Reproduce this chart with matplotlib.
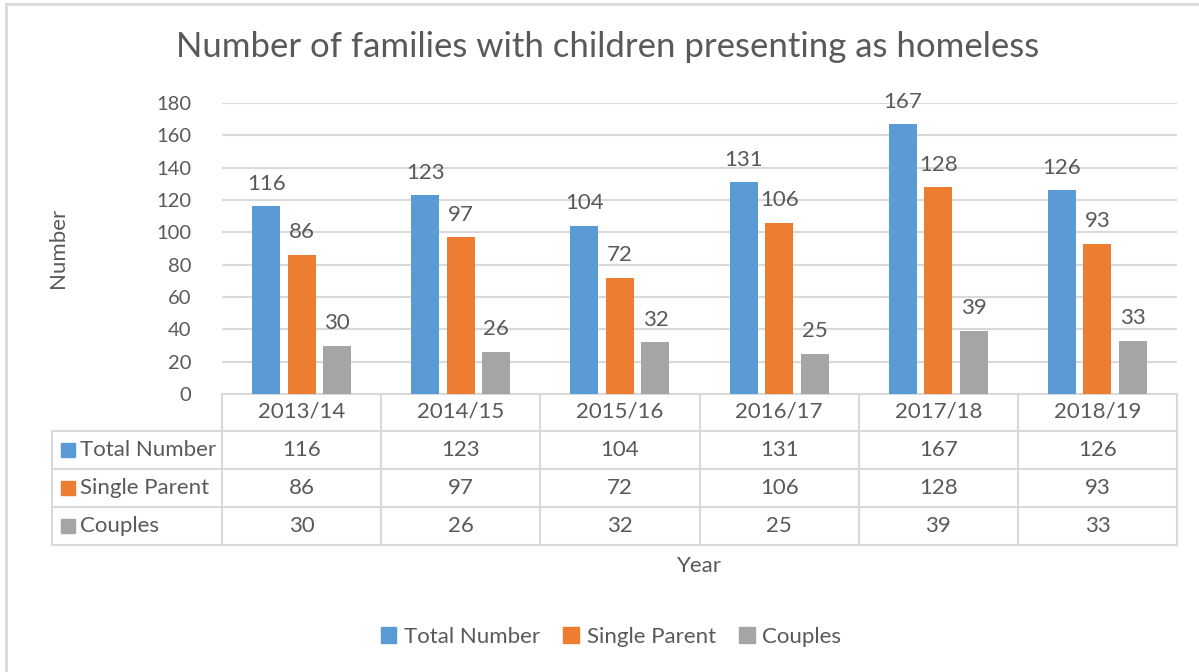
import numpy as np
import matplotlib
matplotlib.use("Agg")
import matplotlib.pyplot as plt
from matplotlib.lines import Line2D
from matplotlib.patches import Patch
import matplotlib.transforms as mtransforms

plt.rcParams['font.family'] = ['Lato', 'DejaVu Sans']

# data
years = ["2013/14", "2014/15", "2015/16", "2016/17", "2017/18", "2018/19"]
series_names = ["Total Number", "Single Parent", "Couples"]
total_number = [116, 123, 104, 131, 167, 126]
single_parent = [86, 97, 72, 106, 128, 93]
couples = [30, 26, 32, 25, 39, 33]
colors = ["#5B9BD5", "#ED7D31", "#A5A5A5"]

TEXT = "#595959"
LINE = "#D9D9D9"
W, H = 1199, 672


def fx(px):
    return px / W


def fy(py):
    return 1 - py / H


fig = plt.figure(figsize=(W / 100, H / 100), dpi=100)
fig.patch.set_facecolor("white")

# outer chart border (only left and top visible in the crop)
fig.add_artist(Line2D([fx(6), fx(6)], [fy(4), 0], color=LINE, lw=2, transform=fig.transFigure))
fig.add_artist(Line2D([fx(6), 1], [fy(4), fy(4)], color=LINE, lw=2, transform=fig.transFigure))

ax = fig.add_axes([fx(222), fy(394), fx(1177) - fx(222), fy(103) - fy(394)])
x = np.arange(len(years))
width = 0.176
step = 0.223
all_series = [total_number, single_parent, couples]
for i, (vals, c) in enumerate(zip(all_series, colors)):
    bars = ax.bar(x + (i - 1) * step, vals, width, color=c, zorder=3)
    for b, v in zip(bars, vals):
        ax.annotate(str(v), (b.get_x() + b.get_width() / 2, v), xytext=(0, 9),
                    textcoords="offset points", ha="center", va="bottom",
                    fontsize=16, color=TEXT)

ax.set_xlim(-0.5, len(years) - 0.5)
ax.set_ylim(0, 180)
ax.set_yticks(range(0, 181, 20))
ax.yaxis.grid(True, color=LINE, lw=1.5, zorder=0)
ax.tick_params(axis="y", length=0, pad=22, labelsize=14.5, labelcolor=TEXT)
ax.set_xticks([])
for s in ["top", "right", "left"]:
    ax.spines[s].set_visible(False)
ax.spines["bottom"].set_color(LINE)
ax.spines["bottom"].set_linewidth(1.5)

# data table under the axis, columns follow the bar axis
tr = mtransforms.blended_transform_factory(ax.transData, fig.transFigure)
row_edges = [394, 431, 469, 507, 545]
for k in range(len(years) + 1):
    ax_x = k - 0.5
    fig.add_artist(Line2D([ax_x, ax_x], [fy(394), fy(545)], color=LINE, lw=1.5, transform=tr))
for py in row_edges[1:]:
    fig.add_artist(Line2D([fx(52), fx(1177)], [fy(py), fy(py)], color=LINE, lw=1.5,
                          transform=fig.transFigure))
fig.add_artist(Line2D([fx(52), fx(52)], [fy(431), fy(545)], color=LINE, lw=1.5,
                      transform=fig.transFigure))

for k, yr in enumerate(years):
    fig.text(k, fy(412), yr, transform=tr, ha="center", va="center", fontsize=16, color=TEXT)
for r, (name, vals, c) in enumerate(zip(series_names, all_series, colors)):
    yc = (row_edges[r + 1] + row_edges[r + 2]) / 2
    fig.patches.append(plt.Rectangle((fx(61), fy(yc + 7)), fx(14), 14 / H, color=c,
                                     transform=fig.transFigure, figure=fig))
    fig.text(fx(80), fy(yc), name, ha="left", va="center", fontsize=16, color=TEXT)
    for k, v in enumerate(vals):
        fig.text(k, fy(yc), str(v), transform=tr, ha="center", va="center", fontsize=16, color=TEXT)

fig.text(fx(608), fy(47), "Number of families with children presenting as homeless",
         ha="center", va="center", fontsize=25, color=TEXT)
fig.text(fx(58), fy(248), "Number", rotation=90, ha="center", va="center", fontsize=16, color=TEXT)
fig.text(fx(699), fy(566), "Year", ha="center", va="center", fontsize=16, color=TEXT)

handles = [Patch(color=c, label=n) for c, n in zip(colors, series_names)]
fig.legend(handles=handles, loc="center", bbox_to_anchor=(fx(611), fy(637)), ncol=3,
           frameon=False, fontsize=16, labelcolor=TEXT, handlelength=0.7, handleheight=0.7,
           handletextpad=0.35, columnspacing=1.05)

fig.savefig("out.png", dpi=100, facecolor="white")
